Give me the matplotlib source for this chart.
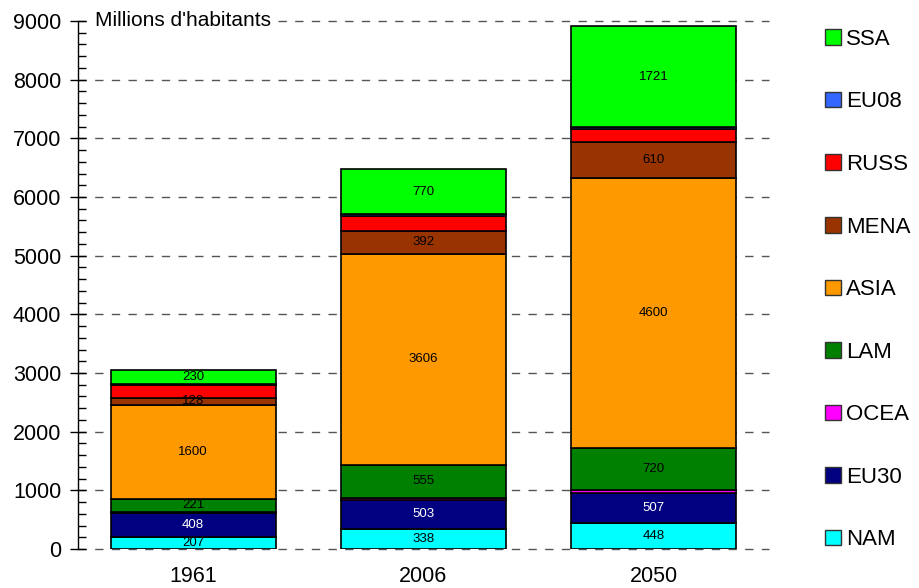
import matplotlib.pyplot as plt
from matplotlib.patches import Patch
from matplotlib.ticker import MultipleLocator
import numpy as np

plt.rcParams['font.family'] = ['Liberation Sans', 'DejaVu Sans']

years = ['1961', '2006', '2050']
regions = ['NAM', 'EU30', 'OCEA', 'LAM', 'ASIA', 'MENA', 'RUSS', 'EU08', 'SSA']
colors = ['#00FFFF', '#000080', '#FF00FF', '#008000', '#FF9900',
          '#993300', '#FF0000', '#3366FF', '#00FF00']

nam = [207, 338, 448]
eu30 = [408, 503, 507]
ocea = [16, 34, 46]
lam = [221, 555, 720]
asia = [1600, 3606, 4600]
mena = [128, 392, 610]
russ = [214, 240, 220]
eu08 = [27, 40, 40]
ssa = [230, 770, 1721]

series = [nam, eu30, ocea, lam, asia, mena, russ, eu08, ssa]
labelled = ['NAM', 'EU30', 'LAM', 'ASIA', 'MENA', 'SSA']

fig = plt.figure(figsize=(9.19, 5.88), dpi=100)
ax = fig.add_axes([78/919, 39/588, (769-78)/919, (549-21)/588])

x = np.arange(len(years))
bottom = np.zeros(len(years))
for name, vals, col in zip(regions, series, colors):
    vals = np.array(vals, dtype=float)
    ax.bar(x, vals, 0.716, bottom=bottom, color=col, edgecolor='black',
           linewidth=1.2, zorder=3)
    if name in labelled:
        tc = 'white' if name == 'EU30' else 'black'
        for xi, b, v in zip(x, bottom, vals):
            ax.text(xi, b + v/2, str(int(v)), ha='center', va='center',
                    fontsize=9.5, color=tc, zorder=4)
    bottom += vals

ax.set_xlim(-0.5, 2.5)
ax.set_ylim(0, 9000)
ax.yaxis.set_major_locator(MultipleLocator(1000))
ax.yaxis.set_minor_locator(MultipleLocator(200))
ax.set_xticks(x)
ax.set_xticklabels(years)
ax.tick_params(axis='x', length=0, pad=12, labelsize=15.5)
ax.tick_params(axis='y', which='major', direction='inout', length=12,
               width=1, pad=6, labelsize=15.5)
ax.tick_params(axis='y', which='minor', direction='in', length=6, width=1)

for s in ['top', 'right', 'bottom']:
    ax.spines[s].set_visible(False)
ax.spines['left'].set_linewidth(1)

ax.grid(axis='y', which='major', color='#555555', linestyle=(0, (6, 6)),
        linewidth=1, zorder=1)
ax.set_axisbelow(True)
for gl in ax.get_ygridlines():
    gl.set_clip_on(False)

ax.text(0.025, 9000, "Millions d'habitants", ha='left', va='center',
        fontsize=15, zorder=5, transform=ax.get_yaxis_transform(),
        bbox=dict(facecolor='white', edgecolor='none', pad=1))

handles = [Patch(facecolor=c, edgecolor='#333333', label=r)
           for r, c in zip(regions, colors)][::-1]
fig.legend(handles=handles, loc='upper left', bbox_to_anchor=(0.888, 0.966),
           frameon=False, fontsize=16, handlelength=0.7, handleheight=0.7,
           handletextpad=0.25, labelspacing=1.87, borderaxespad=0)

fig.savefig('out.png', dpi=100)
